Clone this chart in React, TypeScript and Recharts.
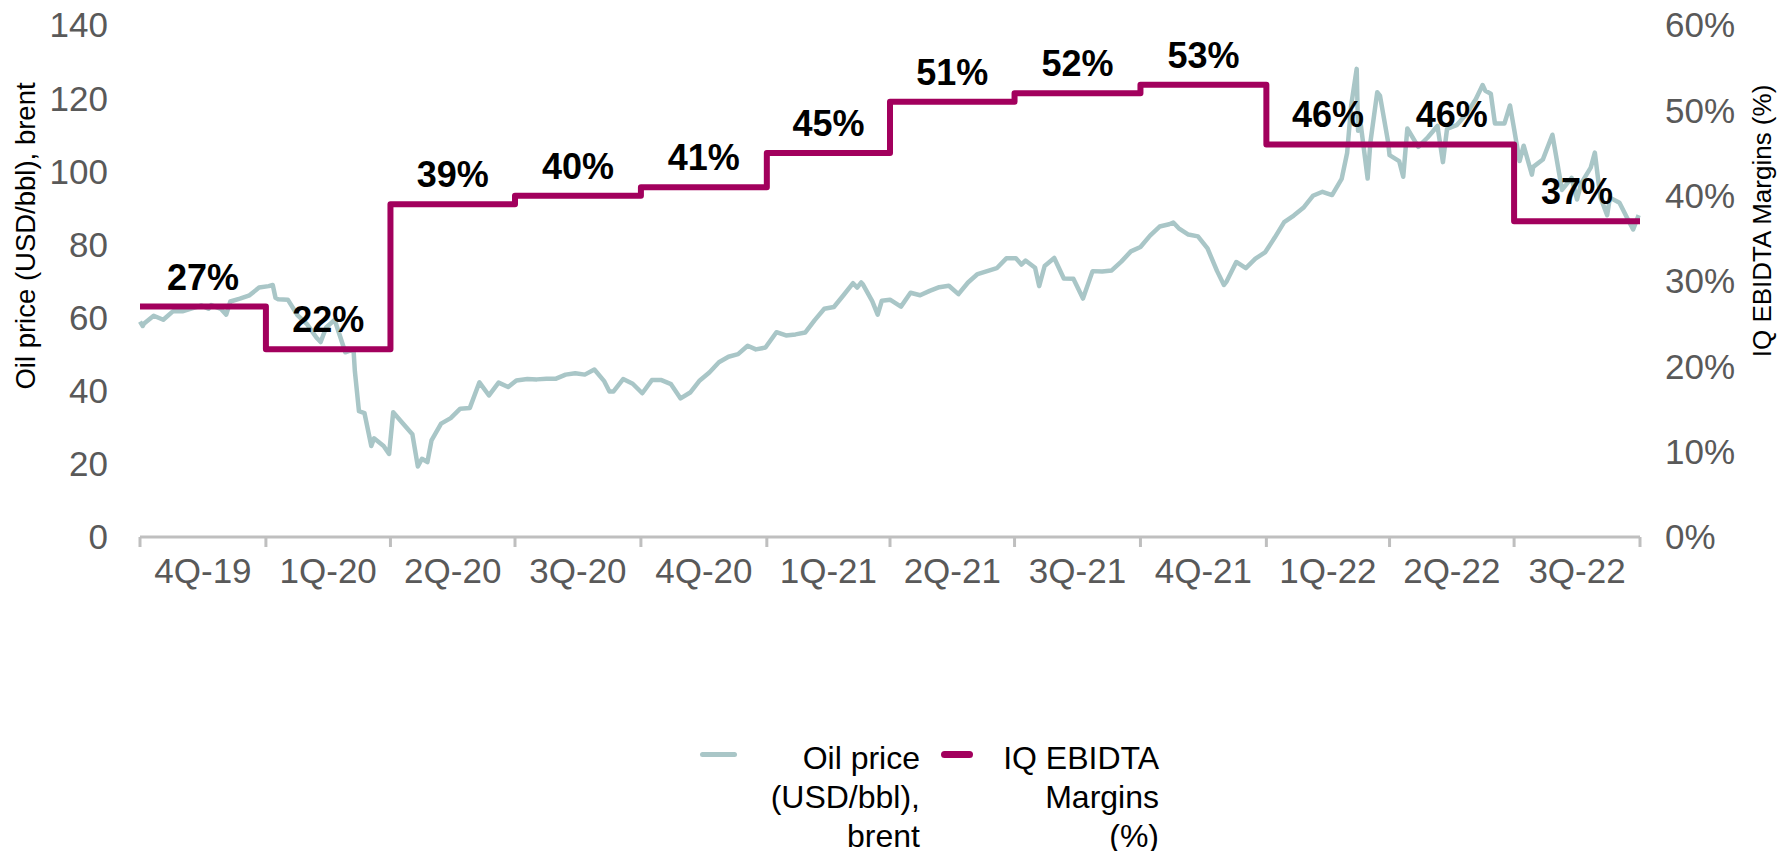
import { ComposedChart, Line, XAxis, YAxis, LabelList } from 'recharts'

const FONT = '"Liberation Sans", Arial, sans-serif'
const OIL_COLOR = '#a9c6c7'
const MARGIN_COLOR = '#a2005d'
const TICK_COLOR = '#595959'

const quarters = ['4Q-19', '1Q-20', '2Q-20', '3Q-20', '4Q-20', '1Q-21', '2Q-21', '3Q-21', '4Q-21', '1Q-22', '2Q-22', '3Q-22']
const quarterStarts = [
  '2019-10-01', '2020-01-01', '2020-04-01', '2020-07-01', '2020-10-01', '2021-01-01',
  '2021-04-01', '2021-07-01', '2021-10-01', '2022-01-01', '2022-04-01', '2022-07-01',
]
const periodEnd = '2022-10-01'
const ebitdaMargins = [27, 22, 39, 40, 41, 45, 51, 52, 53, 46, 46, 37]

const oilTicks = [0, 20, 40, 60, 80, 100, 120, 140]
const marginTicks = [0, 0.1, 0.2, 0.3, 0.4, 0.5, 0.6]

// Brent, USD/bbl
const oil2019: [string, number][] = [
  ['2019-10-01', 58.9], ['2019-10-03', 57.7], ['2019-10-04', 58.4], ['2019-10-11', 60.5], ['2019-10-18', 59.4],
  ['2019-10-25', 61.7], ['2019-11-01', 61.7], ['2019-11-08', 62.5], ['2019-11-15', 63.3], ['2019-11-20', 62.4],
  ['2019-11-22', 63.4], ['2019-11-29', 62.4], ['2019-12-03', 60.8], ['2019-12-06', 64.4], ['2019-12-13', 65.2],
  ['2019-12-20', 66.1], ['2019-12-27', 68.2],
]
const oil2020: [string, number][] = [
  ['2020-01-03', 68.6], ['2020-01-06', 68.9], ['2020-01-08', 65.4], ['2020-01-10', 65.0], ['2020-01-17', 64.9],
  ['2020-01-24', 60.7], ['2020-01-31', 58.2], ['2020-02-07', 54.5], ['2020-02-10', 53.3], ['2020-02-14', 57.3],
  ['2020-02-20', 59.3], ['2020-02-21', 58.5], ['2020-02-28', 50.5], ['2020-03-05', 51.3], ['2020-03-06', 45.3],
  ['2020-03-09', 34.4], ['2020-03-13', 33.9], ['2020-03-18', 24.9], ['2020-03-20', 27.0], ['2020-03-27', 24.9],
  ['2020-03-31', 22.7], ['2020-04-03', 34.1], ['2020-04-09', 31.5], ['2020-04-17', 28.1], ['2020-04-21', 19.3],
  ['2020-04-24', 21.4], ['2020-04-28', 20.5], ['2020-05-01', 26.4], ['2020-05-08', 31.0], ['2020-05-15', 32.5],
  ['2020-05-22', 35.1], ['2020-05-29', 35.3], ['2020-06-05', 42.3], ['2020-06-12', 38.7], ['2020-06-19', 42.2],
  ['2020-06-26', 41.0], ['2020-07-02', 42.8], ['2020-07-10', 43.2], ['2020-07-17', 43.1], ['2020-07-24', 43.3],
  ['2020-07-31', 43.3], ['2020-08-07', 44.4], ['2020-08-14', 44.8], ['2020-08-21', 44.4], ['2020-08-28', 45.8],
  ['2020-09-04', 42.7], ['2020-09-08', 39.8], ['2020-09-11', 39.8], ['2020-09-18', 43.2], ['2020-09-25', 41.9],
  ['2020-10-02', 39.3], ['2020-10-09', 42.9], ['2020-10-16', 42.9], ['2020-10-23', 41.8], ['2020-10-30', 37.9],
  ['2020-11-06', 39.5], ['2020-11-13', 42.8], ['2020-11-20', 45.0], ['2020-11-27', 47.8], ['2020-12-04', 49.3],
  ['2020-12-11', 50.0], ['2020-12-18', 52.3], ['2020-12-24', 51.3], ['2020-12-31', 51.8],
]
const oil2021: [string, number][] = [
  ['2021-01-08', 56.0], ['2021-01-15', 55.1], ['2021-01-22', 55.4], ['2021-01-29', 55.9], ['2021-02-05', 59.3],
  ['2021-02-12', 62.4], ['2021-02-19', 62.9], ['2021-02-26', 66.1], ['2021-03-05', 69.4], ['2021-03-08', 68.2],
  ['2021-03-11', 69.6], ['2021-03-12', 69.2], ['2021-03-19', 64.5], ['2021-03-23', 60.8], ['2021-03-26', 64.6],
  ['2021-04-01', 64.9], ['2021-04-09', 63.0], ['2021-04-16', 66.8], ['2021-04-23', 66.1], ['2021-04-30', 67.3],
  ['2021-05-07', 68.3], ['2021-05-14', 68.7], ['2021-05-21', 66.4], ['2021-05-28', 69.6], ['2021-06-04', 71.9],
  ['2021-06-11', 72.7], ['2021-06-18', 73.5], ['2021-06-25', 76.2], ['2021-07-02', 76.2], ['2021-07-06', 74.5],
  ['2021-07-09', 75.6], ['2021-07-16', 73.6], ['2021-07-19', 68.6], ['2021-07-23', 74.1], ['2021-07-30', 76.3],
  ['2021-08-06', 70.7], ['2021-08-13', 70.6], ['2021-08-20', 65.2], ['2021-08-27', 72.7], ['2021-09-03', 72.6],
  ['2021-09-10', 72.9], ['2021-09-17', 75.3], ['2021-09-24', 78.1], ['2021-10-01', 79.3], ['2021-10-08', 82.4],
  ['2021-10-15', 84.9], ['2021-10-22', 85.5], ['2021-10-25', 86.0], ['2021-10-29', 84.4], ['2021-11-05', 82.7],
  ['2021-11-12', 82.2], ['2021-11-19', 78.9], ['2021-11-26', 72.7], ['2021-12-01', 68.9], ['2021-12-03', 69.9],
  ['2021-12-10', 75.2], ['2021-12-17', 73.5], ['2021-12-24', 76.1], ['2021-12-31', 77.8],
]
const oil2022: [string, number][] = [
  ['2022-01-07', 81.8], ['2022-01-14', 86.1], ['2022-01-21', 87.9], ['2022-01-28', 90.0], ['2022-02-04', 93.3],
  ['2022-02-11', 94.4], ['2022-02-18', 93.5], ['2022-02-25', 97.9], ['2022-03-01', 105.0], ['2022-03-04', 118.1],
  ['2022-03-08', 128.0], ['2022-03-09', 111.1], ['2022-03-11', 112.7], ['2022-03-16', 98.0], ['2022-03-18', 107.9],
  ['2022-03-23', 121.6], ['2022-03-25', 120.7], ['2022-03-31', 107.9], ['2022-04-01', 104.4], ['2022-04-08', 102.8],
  ['2022-04-11', 98.5], ['2022-04-14', 111.7], ['2022-04-22', 106.7], ['2022-04-29', 109.3], ['2022-05-06', 112.4],
  ['2022-05-10', 102.5], ['2022-05-13', 111.6], ['2022-05-20', 112.6], ['2022-05-27', 115.6], ['2022-06-03', 119.7],
  ['2022-06-08', 123.6], ['2022-06-10', 122.0], ['2022-06-14', 121.2], ['2022-06-17', 113.1], ['2022-06-24', 113.1],
  ['2022-06-28', 118.0], ['2022-07-01', 111.6], ['2022-07-05', 102.8], ['2022-07-08', 107.0], ['2022-07-14', 99.1],
  ['2022-07-15', 101.2], ['2022-07-22', 103.2], ['2022-07-29', 110.0], ['2022-08-05', 94.9], ['2022-08-12', 98.2],
  ['2022-08-16', 92.3], ['2022-08-19', 96.7], ['2022-08-26', 101.0], ['2022-08-29', 105.1], ['2022-09-02', 93.0],
  ['2022-09-07', 88.0], ['2022-09-09', 92.8], ['2022-09-16', 91.4], ['2022-09-23', 86.2], ['2022-09-26', 84.1],
  ['2022-09-30', 88.0],
]

// days since 1 Oct 2019
const dayOf = (d: string) => {
  const [y, m, dd] = d.split('-').map(Number)
  return (Date.UTC(y, m - 1, dd) - Date.UTC(2019, 9, 1)) / 86400000
}

const starts = quarterStarts.map(dayOf)
const endDay = dayOf(periodEnd)
const boundaries = [...starts, endDay]
const mids = starts.map((s, i) => (s + boundaries[i + 1]) / 2)

const oilData = [...oil2019, ...oil2020, ...oil2021, ...oil2022].map(([d, v]) => ({ x: dayOf(d), oil: v }))
const stepData = [
  ...starts.map((s, i) => ({ x: s, m: ebitdaMargins[i] / 100 })),
  { x: endDay, m: ebitdaMargins[ebitdaMargins.length - 1] / 100 },
]
const labelData = mids.map((x, i) => ({ x, m: ebitdaMargins[i] / 100, label: `${ebitdaMargins[i]}%` }))

const tickStyle = { fill: TICK_COLOR, fontSize: 35, fontFamily: FONT }

export default function App() {
  return (
    <div style={{ position: 'absolute', left: 0, top: 0, width: 1790, height: 851, background: '#fff', fontFamily: FONT }}>
      <ComposedChart width={1790} height={851} margin={{ top: 25, right: 0, bottom: 254, left: 0 }}>
        <XAxis
          dataKey="x"
          type="number"
          domain={[0, endDay]}
          ticks={boundaries}
          interval={0}
          tick={() => <g />}
          tickSize={10}
          height={10}
          axisLine={{ stroke: '#bfbfbf', strokeWidth: 3 }}
          tickLine={{ stroke: '#bfbfbf', strokeWidth: 3 }}
        />
        <XAxis
          xAxisId="q"
          dataKey="x"
          type="number"
          domain={[0, endDay]}
          ticks={mids}
          interval={0}
          tickFormatter={(_v: number, i: number) => quarters[i]}
          tick={tickStyle}
          tickSize={0}
          tickMargin={11}
          height={50}
          axisLine={false}
          tickLine={false}
        />
        <YAxis
          yAxisId="oil"
          domain={[0, 140]}
          ticks={oilTicks}
          width={140}
          axisLine={false}
          tickLine={false}
          tickSize={0}
          tickMargin={32}
          tick={tickStyle}
        />
        <YAxis
          yAxisId="margin"
          orientation="right"
          domain={[0, 0.6]}
          ticks={marginTicks}
          tickFormatter={(v: number) => `${Math.round(v * 100)}%`}
          width={150}
          axisLine={false}
          tickLine={false}
          tickSize={0}
          tickMargin={25}
          tick={tickStyle}
        />
        <Line
          yAxisId="oil"
          data={oilData}
          dataKey="oil"
          type="linear"
          stroke={OIL_COLOR}
          strokeWidth={4.5}
          strokeLinejoin="round"
          dot={false}
          activeDot={false}
          isAnimationActive={false}
        />
        <Line
          yAxisId="margin"
          data={stepData}
          dataKey="m"
          type="stepAfter"
          stroke={MARGIN_COLOR}
          strokeWidth={6}
          strokeLinejoin="round"
          dot={false}
          activeDot={false}
          isAnimationActive={false}
        />
        <Line
          xAxisId="q"
          yAxisId="margin"
          data={labelData}
          dataKey="m"
          stroke="none"
          dot={false}
          activeDot={false}
          isAnimationActive={false}
        >
          <LabelList
            dataKey="label"
            position="top"
            offset={17}
            fill="#000"
            fontSize={36}
            fontWeight="bold"
            fontFamily={FONT}
          />
        </Line>
      </ComposedChart>

      <svg width={1790} height={851} style={{ position: 'absolute', left: 0, top: 0, pointerEvents: 'none' }}>
        <text transform="translate(35, 236) rotate(-90)" textAnchor="middle" fontSize={27.5} fontFamily={FONT} fill="#000">
          Oil price (USD/bbl), brent
        </text>
        <text transform="translate(1771, 221) rotate(-90)" textAnchor="middle" fontSize={26} fontFamily={FONT} fill="#000">
          IQ EBIDTA Margins (%)
        </text>
      </svg>

      <div style={{ position: 'absolute', left: 700, top: 752, width: 37, height: 5, borderRadius: 3, background: OIL_COLOR }} />
      <div style={{ position: 'absolute', left: 760, top: 739, width: 160, fontSize: 32, lineHeight: '39px', textAlign: 'right', color: '#000' }}>
        Oil price<br />(USD/bbl),<br />brent
      </div>
      <div style={{ position: 'absolute', left: 941, top: 751, width: 32, height: 7, borderRadius: 4, background: MARGIN_COLOR }} />
      <div style={{ position: 'absolute', left: 979, top: 739, width: 180, fontSize: 32, lineHeight: '39px', textAlign: 'right', color: '#000' }}>
        IQ EBIDTA<br />Margins<br />(%)
      </div>
    </div>
  )
}
